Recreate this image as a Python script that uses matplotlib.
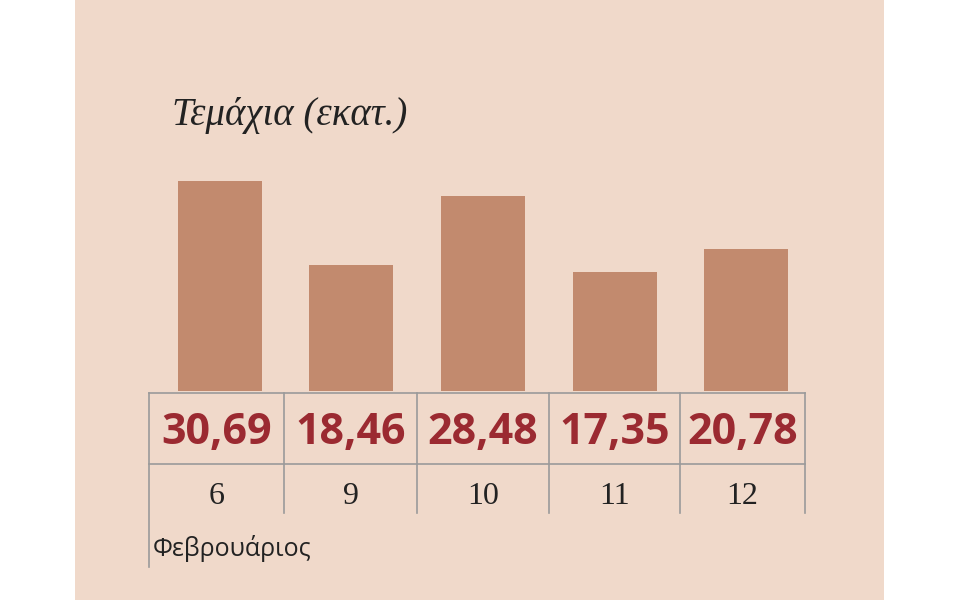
import matplotlib
matplotlib.use("Agg")
import matplotlib.pyplot as plt
from matplotlib.patches import Rectangle
from matplotlib.lines import Line2D

categories = ["6", "9", "10", "11", "12"]
values = [30.69, 18.46, 28.48, 17.35, 20.78]
value_labels = ["30,69", "18,46", "28,48", "17,35", "20,78"]
title = "Τεμάχια (εκατ.)"
xlabel = "Φεβρουάριος"

W, H = 960, 600
fig = plt.figure(figsize=(9.6, 6.0), dpi=100)
fig.patch.set_facecolor("white")
def fx(px): return px / W
def fy(py): return 1 - py / H

bg = fig.add_axes([0, 0, 1, 1], zorder=0)
bg.add_patch(Rectangle((fx(75), 0), fx(884 - 75), 1, facecolor="#f0d9ca", edgecolor="none"))
bg.set_xlim(0, 1); bg.set_ylim(0, 1); bg.axis("off")

ax = fig.add_axes([fx(154), fy(391), fx(812 - 154), fy(100) - fy(391)], zorder=2)
ax.set_facecolor("none")
ax.bar(range(len(values)), values, width=84 / 131.6, color="#c28a6e")
ax.set_xlim(-0.5, 4.5)
ax.set_ylim(0, 291 / 6.84)
ax.axis("off")

fig.text(fx(172), fy(115), title, fontsize=28, fontstyle="italic",
         family="Liberation Serif", color="#222222", va="center", zorder=3)

lc = "#9a9a9a"
def hline(y, x0, x1):
    fig.add_artist(Line2D([fx(x0), fx(x1)], [fy(y), fy(y)], color=lc, lw=1.2, zorder=3))
def vline(x, y0, y1):
    fig.add_artist(Line2D([fx(x), fx(x)], [fy(y0), fy(y1)], color=lc, lw=1.2, zorder=3))

hline(393, 149, 805)
hline(464, 149, 805)
bounds = [149, 284, 417, 549, 680, 805]
for i, b in enumerate(bounds):
    vline(b, 393, 567 if i == 0 else 513)

centers = [(bounds[i] + bounds[i + 1]) / 2 for i in range(5)]
for c, lab, cat in zip(centers, value_labels, categories):
    fig.text(fx(c), fy(432), lab, fontsize=31, fontweight="bold", family="Open Sans",
             color="#9b2a31", ha="center", va="center", zorder=3)
    fig.text(fx(c), fy(497), cat, fontsize=23, family="Liberation Serif",
             color="#222222", ha="center", va="center", zorder=3)

fig.text(fx(153), fy(549), xlabel, fontsize=18, family="Open Sans",
         color="#222222", va="center", zorder=3)

fig.savefig("out.png", dpi=100)
